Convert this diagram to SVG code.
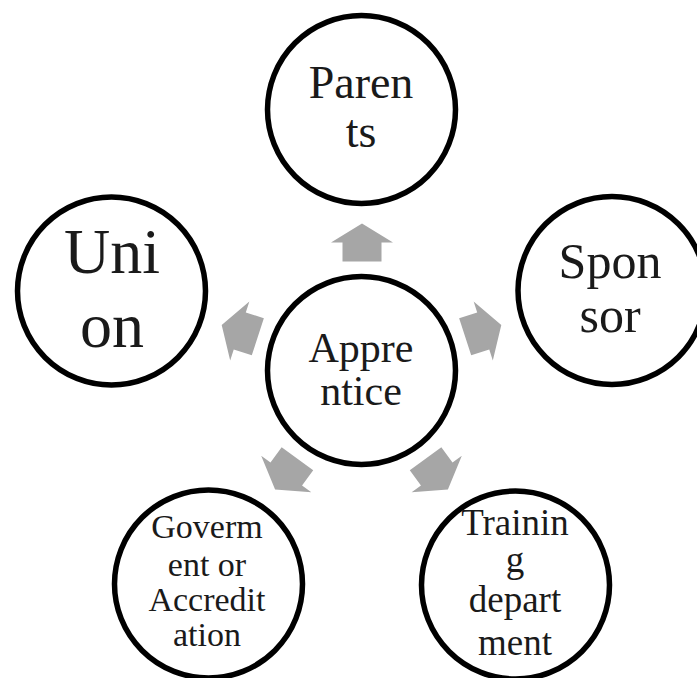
<svg xmlns="http://www.w3.org/2000/svg" xmlns:xlink="http://www.w3.org/1999/xlink" width="697" height="678" viewBox="0 0 697 678">
  <style>
    .node { fill: #ffffff; stroke: #000000; stroke-width: 5.5; }
    .lbl { font-family: "Liberation Serif", "Times New Roman", serif; fill: #1a1a1a; text-anchor: middle; }
    .arr { fill: #a6a6a6; stroke: none; }
  </style>
  <defs>
    <path id="arrow" d="M0,-19 L31,0 L19.5,0 L19.5,19 L-19.5,19 L-19.5,0 L-31,0 Z"/>
  </defs>
  <rect x="0" y="0" width="697" height="678" fill="#ffffff"/>

  <g id="connectors">
    <use xlink:href="#arrow" href="#arrow" class="arr" transform="translate(362,242.5)"/>
    <use xlink:href="#arrow" href="#arrow" class="arr" transform="rotate(72 361.5 370.5) translate(361.5,242.5)"/>
    <use xlink:href="#arrow" href="#arrow" class="arr" transform="rotate(144 361.5 370.5) translate(361.5,242.5)"/>
    <use xlink:href="#arrow" href="#arrow" class="arr" transform="rotate(-144 361.5 370.5) translate(361.5,242.5)"/>
    <use xlink:href="#arrow" href="#arrow" class="arr" transform="rotate(-72 361.5 370.5) translate(361.5,242.5)"/>
  </g>

  <g id="node-parents">
    <circle class="node" cx="361.5" cy="109.5" r="94"/>
    <text class="lbl" font-size="46" x="361" y="98">Paren</text>
    <text class="lbl" font-size="46" x="361" y="147">ts</text>
  </g>

  <g id="node-sponsor">
    <circle class="node" cx="612" cy="290.5" r="94"/>
    <text class="lbl" font-size="50" x="610" y="278">Spon</text>
    <text class="lbl" font-size="50" x="610" y="332">sor</text>
  </g>

  <g id="node-union">
    <circle class="node" cx="111.5" cy="291" r="94"/>
    <text class="lbl" font-size="64" x="112" y="273">Uni</text>
    <text class="lbl" font-size="64" x="112" y="347">on</text>
  </g>

  <g id="node-apprentice">
    <circle class="node" cx="361.5" cy="370.5" r="94"/>
    <text class="lbl" font-size="42" x="361" y="362">Appre</text>
    <text class="lbl" font-size="42" x="361" y="405">ntice</text>
  </g>

  <g id="node-government">
    <circle class="node" cx="208.5" cy="584" r="94"/>
    <text class="lbl" font-size="34" x="207" y="538">Goverm</text>
    <text class="lbl" font-size="34" x="207" y="576">ent or</text>
    <text class="lbl" font-size="34" x="207" y="611">Accredit</text>
    <text class="lbl" font-size="34" x="207" y="646">ation</text>
  </g>

  <g id="node-training">
    <circle class="node" cx="515.5" cy="585" r="94"/>
    <text class="lbl" font-size="37" x="515" y="535">Trainin</text>
    <text class="lbl" font-size="37" x="515" y="572">g</text>
    <text class="lbl" font-size="37" x="515" y="612">depart</text>
    <text class="lbl" font-size="37" x="515" y="655">ment</text>
  </g>
</svg>
